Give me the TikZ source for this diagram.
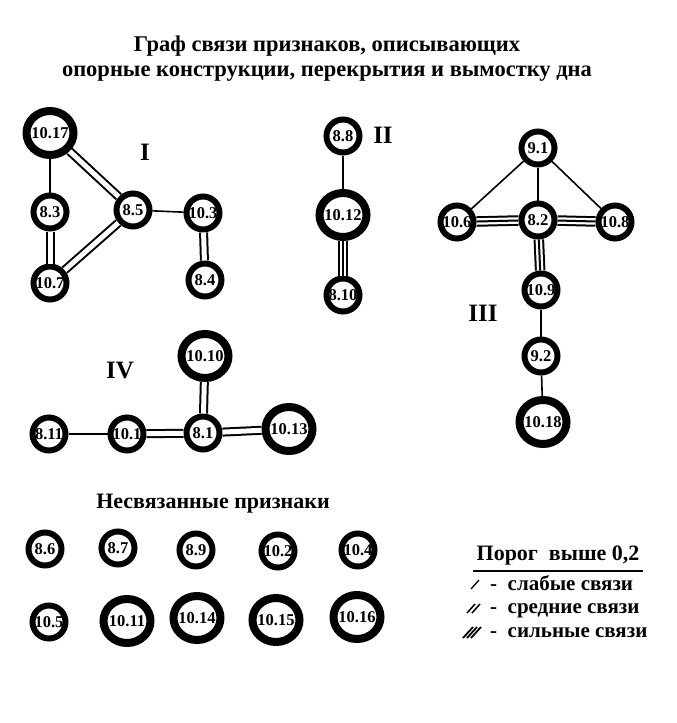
\documentclass[tikz,border=0pt]{standalone}
\usepackage{fontspec}
\setmainfont{Liberation Serif}
\usetikzlibrary{shapes.geometric}
\begin{document}
\begin{tikzpicture}[x=1pt,y=-1pt,
  lbl/.style={font=\bfseries\fontsize{16.5}{16.5}\selectfont},
  sm/.style={circle, draw, line width=6pt, minimum size=33pt, inner sep=0pt, lbl},
  lg/.style={ellipse, draw, line width=8pt, minimum width=47pt, minimum height=44pt, inner xsep=-3pt, inner ysep=0pt, lbl},
  weak/.style={line width=1.6pt},
  medium/.style={double, double distance=5pt, line width=2pt},
  strong/.style={preaction={draw, line width=10.5pt}, preaction={draw, white, line width=6.5pt}, line width=2pt},
  ttl/.style={font=\bfseries\fontsize{22.5}{25}\selectfont, align=center},
  roman/.style={font=\bfseries\fontsize{25}{25}\selectfont},
  head/.style={font=\bfseries\fontsize{22}{22}\selectfont},
  legtxt/.style={font=\bfseries\fontsize{21}{21}\selectfont, anchor=base west, inner sep=0pt},
]
\useasboundingbox[fill=white] (0,0) rectangle (677,723);

% title
\node[ttl] (title) at (327,59) {Граф связи признаков, описывающих\\опорные конструкции, перекрытия и вымостку дна};

% ---- group I
\node[lg] (n1017) at (50,133) {10.17};
\node[sm] (n83) at (50,212) {8.3};
\node[sm] (n85) at (133,210) {8.5};
\node[sm] (n103) at (203,213) {10.3};
\node[sm] (n84) at (205,280) {8.4};
\node[sm] (n107) at (50,283) {10.7};
\node[roman] (rI) at (145,152) {I};
\draw[weak] (n1017) -- (n83);
\draw[medium] (n1017) -- (n85);
\draw[medium] (n83) -- (n107);
\draw[medium] (n107) -- (n85);
\draw[weak] (n85) -- (n103);
\draw[medium] (n103) -- (n84);

% ---- group II
\node[sm] (n88) at (343,136) {8.8};
\node[lg] (n1012) at (343,215) {10.12};
\node[sm] (n810) at (343,295) {8.10};
\node[roman] (rII) at (383,135) {II};
\draw[weak] (n88) -- (n1012);
\draw[strong] (n1012) -- (n810);

% ---- group III
\node[sm] (n91) at (538,148) {9.1};
\node[sm] (n106) at (457,222) {10.6};
\node[sm] (n82) at (538,220) {8.2};
\node[sm] (n108) at (615,222) {10.8};
\node[sm] (n109) at (541,290) {10.9};
\node[sm] (n92) at (541,356) {9.2};
\node[lg] (n1018) at (543,422) {10.18};
\node[roman] (rIII) at (483,313) {III};
\draw[weak] (n91) -- (n106);
\draw[weak] (n91) -- (n82);
\draw[weak] (n91) -- (n108);
\draw[strong] (n106) -- (n82);
\draw[strong] (n82) -- (n108);
\draw[strong] (n82) -- (n109);
\draw[weak] (n109) -- (n92);
\draw[weak] (n92) -- (n1018);

% ---- group IV
\node[sm] (n811) at (49,434) {8.11};
\node[sm] (n101) at (127,434) {10.1};
\node[sm] (n81) at (203,433) {8.1};
\node[lg] (n1010) at (205,356) {10.10};
\node[lg] (n1013) at (289,429) {10.13};
\node[roman] (rIV) at (120,370) {IV};
\draw[weak] (n811) -- (n101);
\draw[medium] (n101) -- (n81);
\draw[medium] (n1010) -- (n81);
\draw[medium] (n81) -- (n1013);

% ---- unconnected
\node[head] (uhead) at (213,504) {Несвязанные признаки};
\node[sm] (u86) at (45,549) {8.6};
\node[sm] (u87) at (118,548) {8.7};
\node[sm] (u89) at (196,550) {8.9};
\node[sm] (u102) at (278,551) {10.2};
\node[sm] (u104) at (358,550) {10.4};
\node[sm] (u105) at (49,622) {10.5};
\node[lg] (u1011) at (127,621) {10.11};
\node[lg] (u1014) at (197,618) {10.14};
\node[lg] (u1015) at (276,620) {10.15};
\node[lg] (u1016) at (357,617) {10.16};

% ---- legend
\node[head] (leg) at (558,556) {Порог\ \ выше 0,2};
\draw[line width=2pt] ([yshift=-2pt]leg.south west) -- ([yshift=-2pt]leg.south east);
\node[legtxt] (l1) at (490,590) {-\ \ слабые связи};
\node[legtxt] (l2) at (490,613) {-\ \ средние связи};
\node[legtxt] (l3) at (490,637) {-\ \ сильные связи};
\draw[line width=1.3pt] (471,589) -- (479,580);
\draw[line width=1.5pt] (467,613) -- (475,604) (472,613) -- (480,604);
\draw[line width=1.8pt] (463,638) -- (473,627) (467,638) -- (477,627) (471,638) -- (481,627);
\end{tikzpicture}
\end{document}
